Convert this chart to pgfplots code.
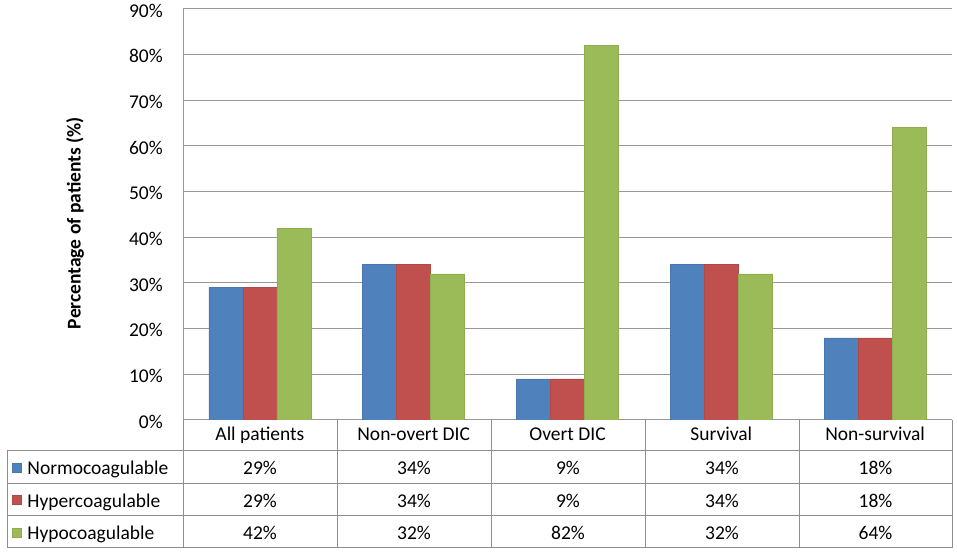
\documentclass[border=0pt]{standalone}
\usepackage{pgfplots}
\pgfplotsset{compat=1.18}
\usepackage{fontspec}
\setmainfont{Carlito}
\newcommand\cf{\fontsize{19.5bp}{22bp}\selectfont}
\definecolor{cblue}{HTML}{4F81BD}
\definecolor{cred}{HTML}{C0504D}
\definecolor{cgreen}{HTML}{9BBB59}
\definecolor{gridc}{HTML}{989898}
\definecolor{tabc}{HTML}{8E8E8E}
\begin{document}
\begin{tikzpicture}[x=1bp,y=1bp]
\useasboundingbox (0,0) rectangle (957,553);
\begin{axis}[
  at={(183bp,133bp)}, anchor=south west,
  scale only axis, width=769bp, height=411bp,
  ybar=0pt, bar width=34bp,
  xmin=-0.5, xmax=4.5, ymin=0, ymax=90,
  enlargelimits=false,
  axis x line=bottom, axis y line=left,
  axis line style={draw=gridc, line width=1bp, -},
  ymajorgrids, grid style={draw=gridc, line width=1bp},
  ytick={0,10,...,90},
  yticklabel={\pgfmathprintnumber{\tick}\%},
  /pgf/number format/assume math mode=true,
  yticklabel style={font=\cf, anchor=east, inner sep=0pt, xshift=-20bp, yshift=-1.5bp},
  xtick={0,1,2,3,4},
  xticklabels={All patients, Non-overt DIC, Overt DIC, Survival, Non-survival},
  xticklabel style={font=\cf, anchor=base, inner sep=0pt, yshift=-21bp},
  major tick length=0pt,
  ylabel={\textbf{Percentage of patients (\%)}},
  ylabel style={font=\cf, at={(axis description cs:-0.1404,0.4793)}, anchor=center},
  legend image code/.code={\fill[#1] (0bp,3bp) rectangle (9bp,12bp);},
  legend style={at={(axis description cs:-0.22237,-0.09976)}, anchor=north west,
    draw=none, fill=none, inner sep=0pt, outer sep=0pt,
    row sep=13.5bp, column sep=6bp, font=\cf,
    cells={anchor=base west},
    nodes={inner sep=0pt, text height=14bp, text depth=5bp}},
]
\addplot[fill=cblue, draw=cblue!92!black, line width=0.5bp] coordinates {(0,29) (1,34) (2,9) (3,34) (4,18)};
\addplot[fill=cred, draw=cred!92!black, line width=0.5bp] coordinates {(0,29) (1,34) (2,9) (3,34) (4,18)};
\addplot[fill=cgreen, draw=cgreen!92!black, line width=0.5bp] coordinates {(0,42) (1,32) (2,82) (3,32) (4,64)};
\legend{Normocoagulable, Hypercoagulable, Hypocoagulable}
\end{axis}
% data table grid
\begin{scope}[draw=tabc, line width=1bp]
\draw (7,102) -- (952,102);
\draw (7,69) -- (952,69);
\draw (7,37) -- (952,37);
\draw (7,5) -- (952,5);
\draw (7,5) -- (7,102);
\draw (183,5) -- (183,133);
\foreach \xx in {337,491,645,799,952} \draw (\xx,5) -- (\xx,133);
\end{scope}
% data table values
\foreach \xx/\a/\b/\c in {260/29/29/42, 414/34/34/32, 568/9/9/82, 722/34/34/32, 875.5/18/18/64}{
  \node[anchor=base, inner sep=0pt, font=\cf] at (\xx,78) {\a\%};
  \node[anchor=base, inner sep=0pt, font=\cf] at (\xx,45) {\b\%};
  \node[anchor=base, inner sep=0pt, font=\cf] at (\xx,13) {\c\%};
}
\end{tikzpicture}
\end{document}
